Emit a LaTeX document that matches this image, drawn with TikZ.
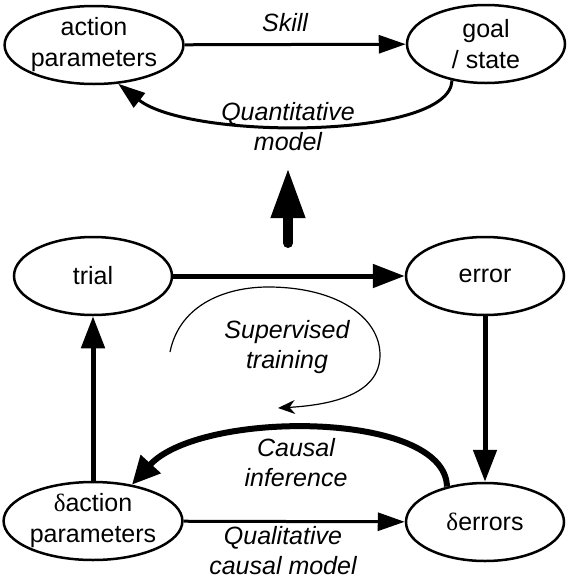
\documentclass[tikz,border=0pt]{standalone}
\usepackage{fontspec}
\setmainfont{Liberation Sans}
\newfontfamily\dfont{Liberation Serif}
\usetikzlibrary{arrows.meta,shapes.geometric}
\begin{document}
\begin{tikzpicture}[x=1pt,y=-1pt,
  st/.style={draw,ellipse,line width=2.5pt,minimum width=158pt,minimum height=78pt,inner sep=0pt,align=center,font=\fontsize{25}{31}\selectfont},
  lab/.style={font=\fontsize{25}{30}\selectfont\itshape,align=center},
  tipm/.style={-{Triangle[length=27pt,width=18pt]}},
  tipb/.style={-{Triangle[length=32pt,width=23pt]}}]
\useasboundingbox (0,0) rectangle (566,579);
\node[st] (ap) at (94,45) {action\\parameters};
\node[st] (gs) at (486,44) {goal\\/ state};
\node[st] (tr) at (93,276) {trial};
\node[st] (er) at (485,276) {error};
\node[st] (dap) at (93,521) {{\dfont δ}action\\parameters};
\node[st] (der) at (485,522) {{\dfont δ}errors};
% top
\draw[tipm,line width=3pt] (ap) -- (gs);
\node[lab] (sk) at (285,23) {Skill};
\draw[tipm,line width=3pt] (gs.227) .. controls (450,140) and (190,140) .. (ap.-58);
\node[lab] (qm) at (288,127) {Quantitative\\model};
% big arrow
\coordinate (ba) at (288,243);
\coordinate (bb) at (288,168);
\draw[line width=10pt,line cap=round,-{Triangle[length=50pt,width=32pt]}] (ba) -- (bb);
% middle
\draw[tipb,line width=5pt] (tr) -- (er);
\draw[tipb,line width=5pt] (dap.north) -- (tr.south);
\draw[tipb,line width=5pt] (er.south) -- (der.north);
% supervised
\coordinate (s1) at (170,352);
\coordinate (s2) at (268,287);
\coordinate (s3) at (380,355);
\coordinate (s4) at (278,408);
\draw[line width=1.2pt,-{Stealth[length=17pt,width=14pt]}] (s1) .. controls (180,303) and (228,287) .. (s2) .. controls (338,287) and (380,318) .. (s3) .. controls (380,395) and (330,405) .. (s4);
\node[lab] (sv) at (287,347) {Supervised\\training};
% causal inference
\draw[line width=6pt,-{Triangle[length=28pt,width=26pt]}] (der.137) .. controls (445,410) and (200,410) .. (dap.43);
\node[lab] (ci) at (296,463) {Causal\\inference};
% qualitative
\draw[tipm,line width=3pt] (dap) -- (der);
\node[lab] (qc) at (283,551) {Qualitative\\causal model};
\end{tikzpicture}
\end{document}
